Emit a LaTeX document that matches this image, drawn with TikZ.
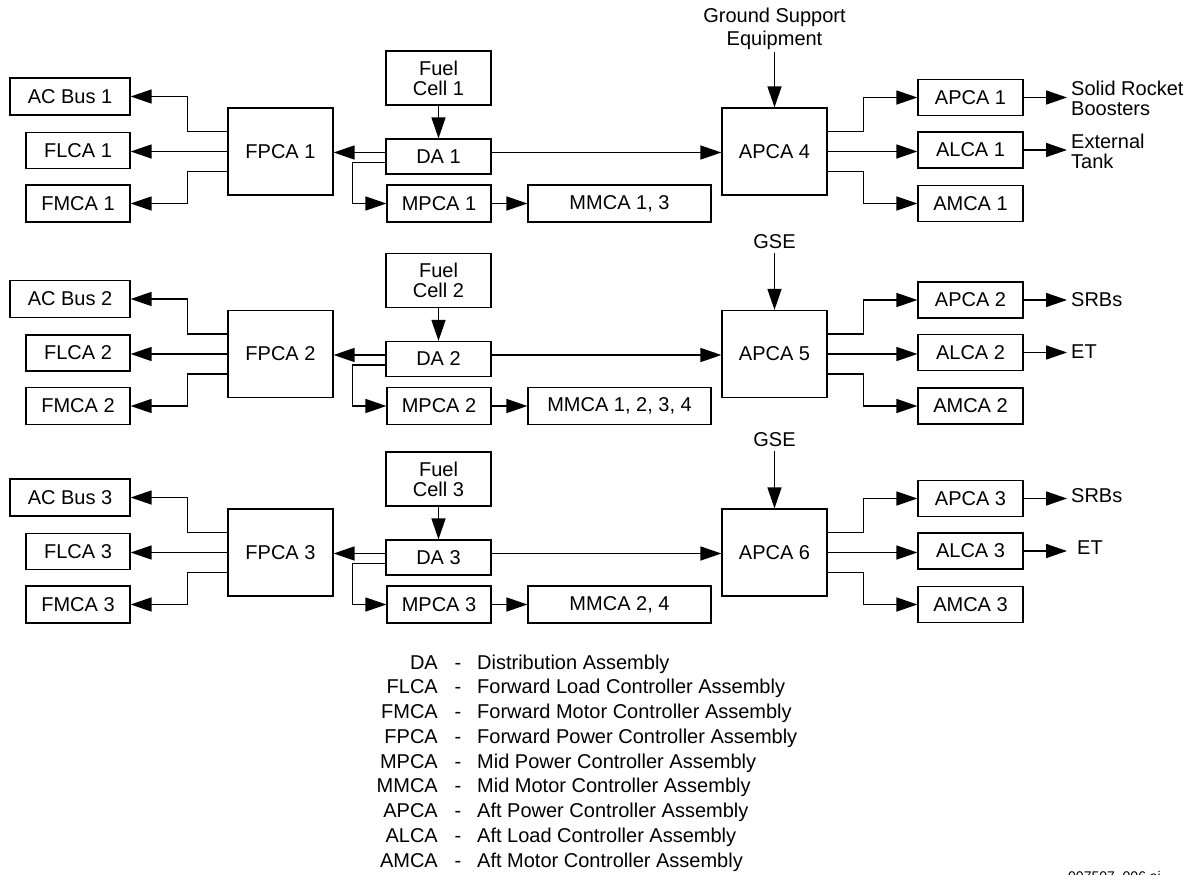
\documentclass[tikz,border=0pt]{standalone}
\usepackage{fontspec}
\setmainfont{Liberation Sans}
\usetikzlibrary{arrows.meta,calc}
\newcommand\bigtxt{\fontsize{20}{20}\selectfont}
\tikzset{
  box/.style={draw, line width=1.2pt, inner sep=0pt, font=\bigtxt},
  conn/.style={line width=1.5pt, -{Triangle[length=21pt,width=14pt]}},
  lbl/.style={inner sep=4pt, font=\bigtxt},
}
\newcommand\powrow[4]{%
  \node[box, minimum width=120pt, minimum height=37pt] (acbus#1) at (70,#2-55) {AC Bus #1};
  \node[box, minimum width=104pt, minimum height=36pt] (flca#1) at (78,#2-1) {FLCA #1};
  \node[box, minimum width=104pt, minimum height=37pt] (fmca#1) at (78,#2+52) {FMCA #1};
  \node[box, minimum width=105pt, minimum height=87pt] (fpca#1) at (280.5,#2) {FPCA #1};
  \node[box, minimum width=105pt, minimum height=54pt, align=center] (fuel#1) at (438.5,#2-73.5) {Fuel\\Cell #1};
  \node[box, minimum width=105pt, minimum height=35pt] (da#1) at (438.5,#2+5) {DA #1};
  \node[box, minimum width=104pt, minimum height=37pt] (mpca#1) at (439,#2+52) {MPCA #1};
  \node[box, minimum width=183pt, minimum height=37pt] (mmca#1) at (619.5,#2+52) {#3};
  \node[box, minimum width=105pt, minimum height=87pt] (apcab#1) at (774.5,#2) {APCA #4};
  \node[box, minimum width=105pt, minimum height=36pt] (apcas#1) at (970.5,#2-54) {APCA #1};
  \node[box, minimum width=105pt, minimum height=36pt] (alca#1) at (970.5,#2-1.5) {ALCA #1};
  \node[box, minimum width=105pt, minimum height=36pt] (amca#1) at (970.5,#2+52) {AMCA #1};
  \draw[conn] ($(fpca#1.west)+(0,-20)$) -- ++(-40,0) |- (acbus#1.east);
  \draw[conn] (fpca#1.west) -- (fpca#1.west -| flca#1.east);
  \draw[conn] ($(fpca#1.west)+(0,20)$) -- ++(-40,0) |- (fmca#1.east);
  \draw[conn] (fuel#1.south) -- (da#1.north);
  \draw[conn] ($(da#1.west)+(0,-4)$) -- ($(fpca#1.east)+(0,1)$);
  \draw[conn] ($(da#1.west)+(0,6)$) -- ++(-33,0) |- (mpca#1.west);
  \draw[conn] (mpca#1.east) -- (mmca#1.west);
  \draw[conn] ($(da#1.east)+(0,-4)$) -- ($(apcab#1.west)+(0,1)$);
  \draw[conn] ($(apcab#1.east)+(0,-20)$) -- ++(36,0) |- (apcas#1.west);
  \draw[conn] (apcab#1.east) -- (apcab#1.east -| alca#1.west);
  \draw[conn] ($(apcab#1.east)+(0,20)$) -- ++(36,0) |- (amca#1.west);
}
\begin{document}
\begin{tikzpicture}[x=1pt,y=-1pt]
\useasboundingbox (0,0) rectangle (1202,875);
\fill[white] (0,0) rectangle (1202,875);

\powrow{1}{151.5}{MMCA 1, 3}{4}
\powrow{2}{354}{MMCA 1, 2, 3, 4}{5}
\powrow{3}{552.5}{MMCA 2, 4}{6}

% ground support inputs
\node[lbl, inner sep=2pt, anchor=south, align=center, font=\fontsize{20}{23}\selectfont] (gse1) at (774.5,52) {Ground Support\\Equipment};
\node[lbl, inner sep=4pt, anchor=south] (gse2) at (774.5,253) {GSE};
\node[lbl, inner sep=4pt, anchor=south] (gse3) at (774.5,451) {GSE};
\draw[conn] (gse1.south) -- (apcab1.north);
\draw[conn] (gse2.south) -- (apcab2.north);
\draw[conn] (gse3.south) -- (apcab3.north);

% right-hand outputs
\node[lbl, anchor=west, align=left] (srb1) at (1067,98.5) {Solid Rocket\\Boosters};
\node[lbl, anchor=west, align=left] (et1) at (1067,151.5) {External\\Tank};
\node[lbl, anchor=west] (srb2) at (1067,300) {SRBs};
\node[lbl, anchor=west] (et2) at (1067,352) {ET};
\node[lbl, anchor=west] (srb3) at (1067,496) {SRBs};
\node[lbl, anchor=west, inner xsep=10pt] (et3) at (1067,548) {ET};
\foreach \r in {1,2,3} {
  \draw[conn] (apcas\r.east) -- (apcas\r.east -| srb\r.west);
  \draw[conn] (alca\r.east) -- (alca\r.east -| et\r.west);
}

% legend
\foreach \ab/\de [count=\i from 0] in {DA/Distribution Assembly,
  FLCA/Forward Load Controller Assembly,
  FMCA/Forward Motor Controller Assembly,
  FPCA/Forward Power Controller Assembly,
  MPCA/Mid Power Controller Assembly,
  MMCA/Mid Motor Controller Assembly,
  APCA/Aft Power Controller Assembly,
  ALCA/Aft Load Controller Assembly,
  AMCA/Aft Motor Controller Assembly} {
  \node[lbl, inner sep=0pt, anchor=base east] (lga\i) at (438,669+24.75*\i) {\ab};
  \node[lbl, inner sep=0pt, anchor=base] (lgs\i) at (458,669+24.75*\i) {-};
  \node[lbl, inner sep=0pt, anchor=base west] (lgd\i) at (477,669+24.75*\i) {\de};
}

\node[inner sep=0pt, anchor=base west, font=\fontsize{14}{16}\selectfont] (fileid) at (1068,881) {007507\_006.ai};
\end{tikzpicture}
\end{document}
